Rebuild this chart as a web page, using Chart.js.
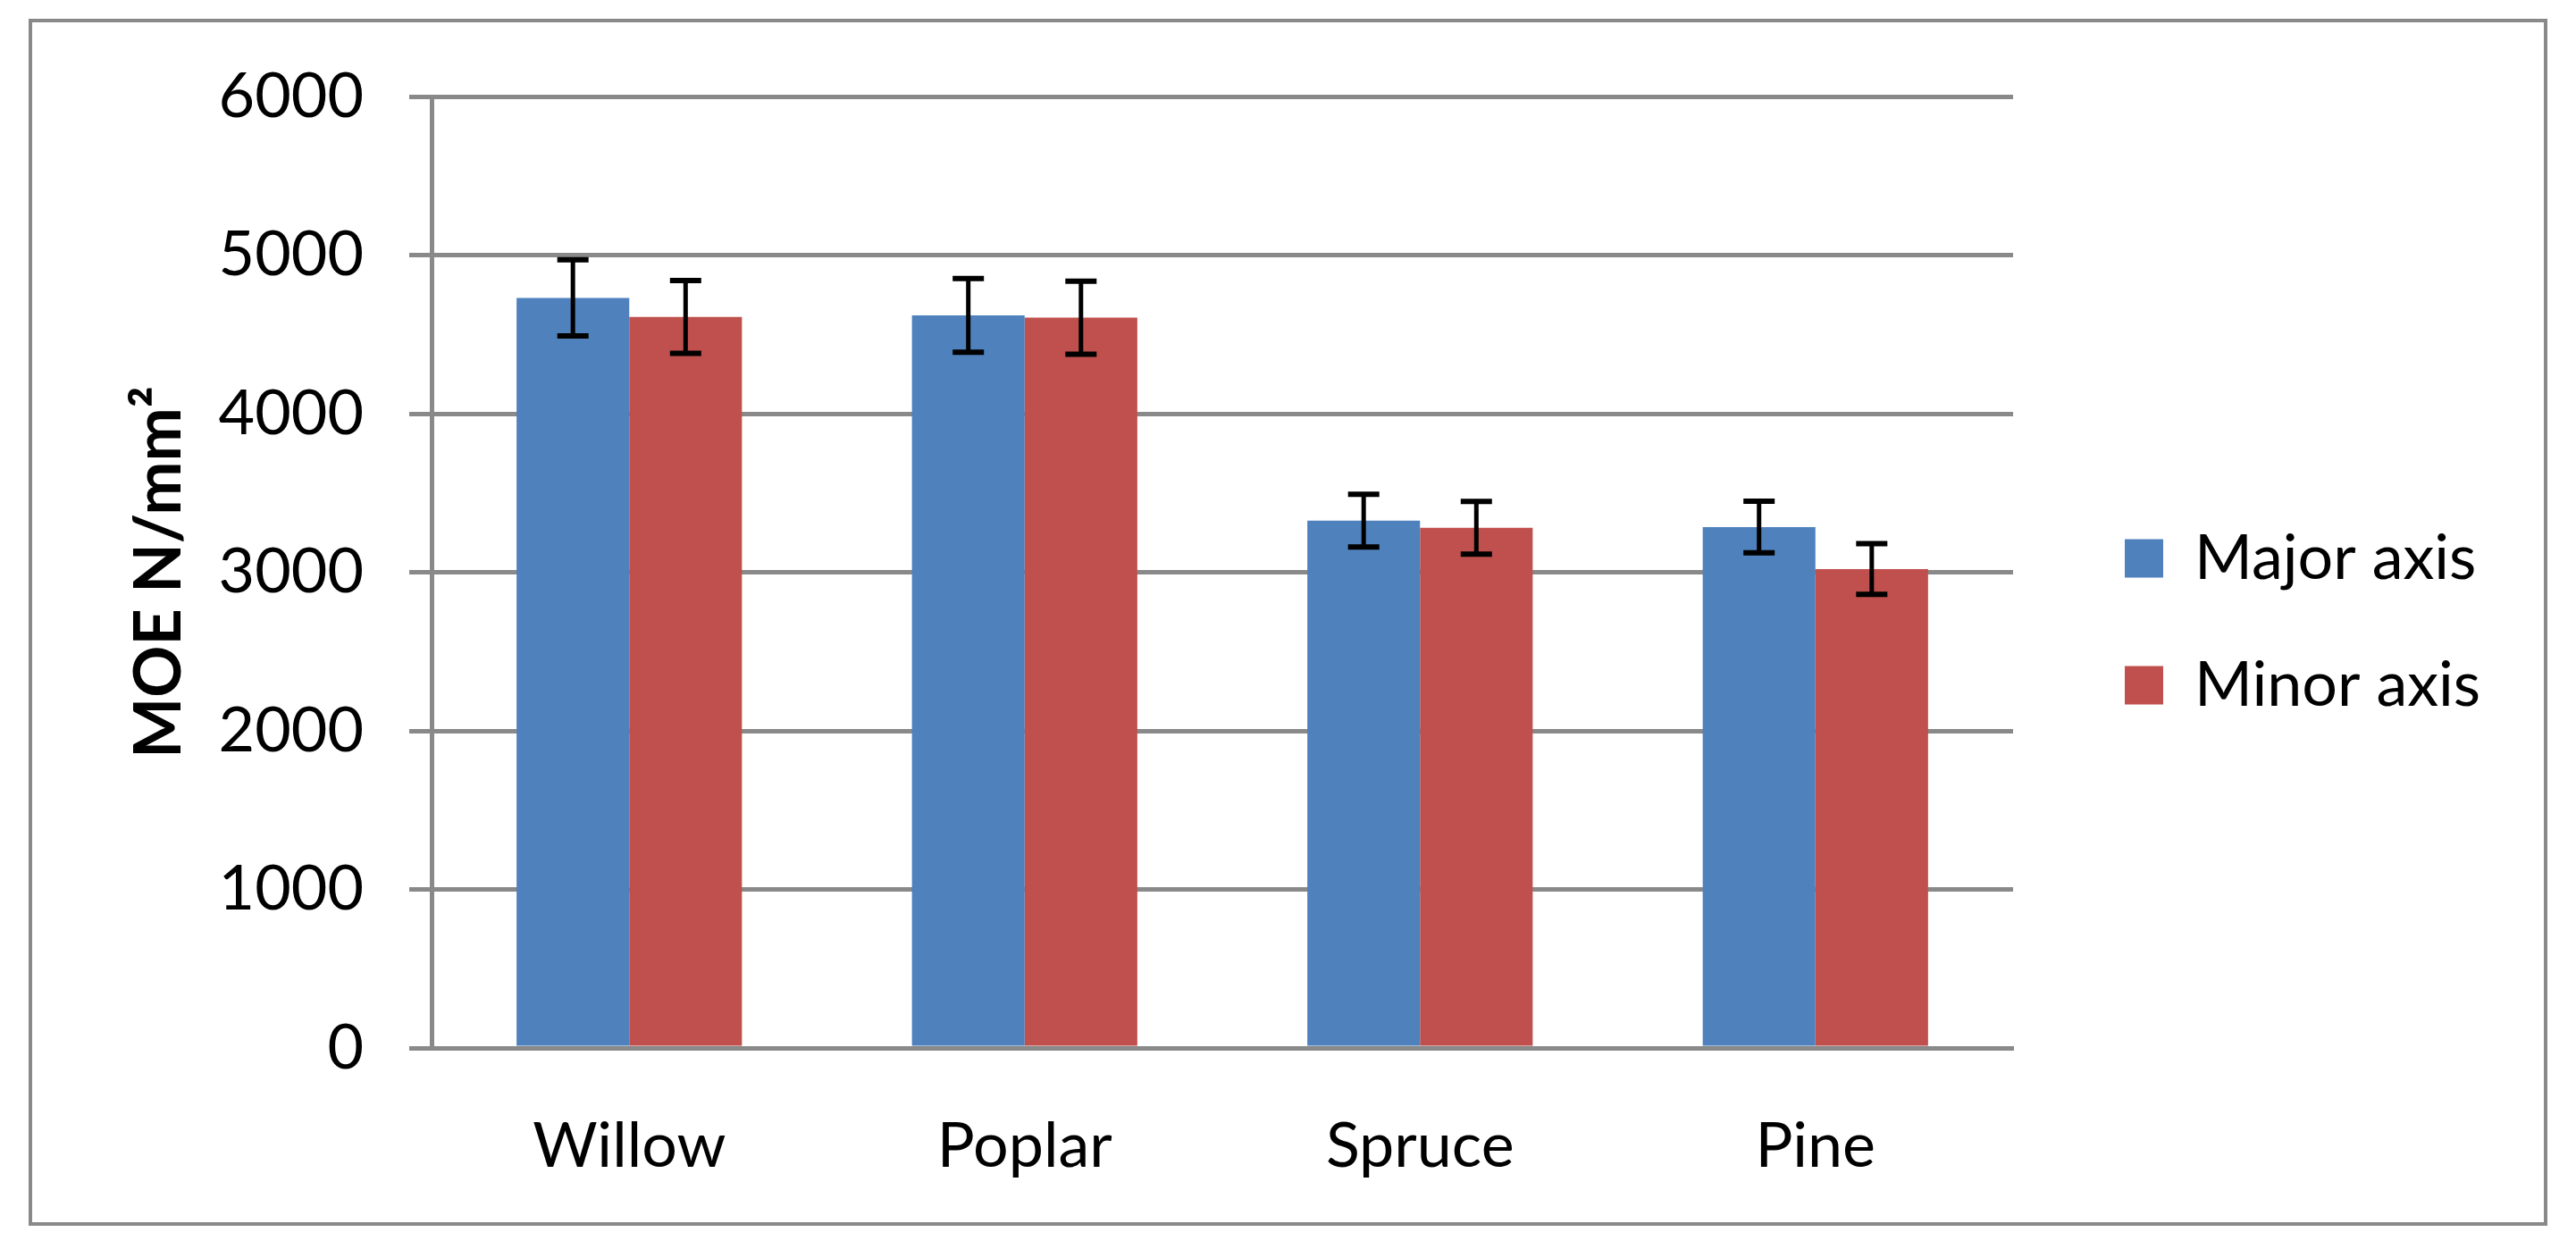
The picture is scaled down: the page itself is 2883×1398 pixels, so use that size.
<!DOCTYPE html>
<html>
<head>
<meta charset="utf-8">
<title>MOE by wood species</title>
<script src="https://cdn.jsdelivr.net/npm/chart.js@4.4.1/dist/chart.umd.min.js"></script>
<style>
  html, body { margin: 0; padding: 0; background: #fff; }
  canvas { display: block; }
</style>
</head>
<body>
<canvas id="moeChart" width="2883" height="1398" style="width:2883px;height:1398px"></canvas>
<script>
// data
const species = ['Willow', 'Poplar', 'Spruce', 'Pine'];
const seriesNames = ['Major axis', 'Minor axis'];
const majorAxis = [4730, 4620, 3325, 3285];
const minorAxis = [4610, 4605, 3280, 3020];
const majorAxisErr = [240, 232, 166, 163];
const minorAxisErr = [230, 230, 166, 160];
const yTicks = [0, 1000, 2000, 3000, 4000, 5000, 6000];

const GRID = '#898989';
const FONT = 'Lato';
const LABEL_SIZE = 70;
const LEGEND_PAD = 72;
const LEGEND_BOX = 43;

// work out how wide the legend will be so the plot ends where Excel's did
const mctx = document.createElement('canvas').getContext('2d');
mctx.font = LABEL_SIZE + 'px ' + FONT;
const textW = Math.max(...seriesNames.map(s => mctx.measureText(s).width));
const legendW = LEGEND_PAD + LEGEND_BOX + LABEL_SIZE / 2 + textW + 10;
const plotRight = 2253;
const padRight = Math.max(0, 2883 - plotRight - legendW);

// whiskers drawn from the value scale, one per bar
const errorBars = {
    id: 'errorBars',
    afterDatasetsDraw(chart) {
        const { ctx, scales: { y } } = chart;
        chart.data.datasets.forEach((ds, di) => {
            const meta = chart.getDatasetMeta(di);
            meta.data.forEach((bar, i) => {
                const v = ds.data[i];
                const e = ds.errors[i];
                const top = y.getPixelForValue(v + e);
                const bot = y.getPixelForValue(v - e);
                ctx.save();
                ctx.strokeStyle = '#000';
                ctx.lineWidth = 5;
                ctx.beginPath();
                ctx.moveTo(bar.x, top);
                ctx.lineTo(bar.x, bot);
                ctx.stroke();
                ctx.lineWidth = 6;
                ctx.beginPath();
                ctx.moveTo(bar.x - 17.5, top);
                ctx.lineTo(bar.x + 17.5, top);
                ctx.moveTo(bar.x - 17.5, bot);
                ctx.lineTo(bar.x + 17.5, bot);
                ctx.stroke();
                ctx.restore();
            });
        });
    }
};

// outer frame + nudge the legend to where Excel put it
const frame = {
    id: 'frame',
    afterLayout(chart) {
        const lg = chart.legend;
        if (!lg) return;
        const dx = (chart.chartArea.right + 125) - (lg.left + lg.options.labels.padding);
        const dy = -57;
        lg.left += dx; lg.right += dx;
        lg.top += dy; lg.bottom += dy;
    },
    beforeDraw(chart) {
        const { ctx, width, height } = chart;
        ctx.save();
        ctx.fillStyle = '#fff';
        ctx.fillRect(0, 0, width, height);
        ctx.strokeStyle = GRID;
        ctx.lineWidth = 4;
        ctx.strokeRect(34, 23, width - 68, height - 51);
        ctx.restore();
    }
};

new Chart(document.getElementById('moeChart'), {
    type: 'bar',
    data: {
        labels: species,
        datasets: [
            {
                label: seriesNames[0],
                data: majorAxis,
                errors: majorAxisErr,
                backgroundColor: '#4F81BD',
                categoryPercentage: 0.57,
                barPercentage: 1.0
            },
            {
                label: seriesNames[1],
                data: minorAxis,
                errors: minorAxisErr,
                backgroundColor: '#C0504D',
                categoryPercentage: 0.57,
                barPercentage: 1.0
            }
        ]
    },
    options: {
        responsive: false,
        animation: false,
        devicePixelRatio: 1,
        layout: { padding: { left: 136, top: 108, right: padRight, bottom: 0 } },
        plugins: {
            tooltip: { enabled: false },
            legend: {
                position: 'right',
                labels: {
                    boxWidth: LEGEND_BOX,
                    boxHeight: LEGEND_BOX,
                    padding: LEGEND_PAD,
                    color: '#000',
                    font: { family: FONT, size: LABEL_SIZE }
                }
            }
        },
        scales: {
            x: {
                grid: { display: false },
                border: { display: true, color: GRID, width: 5 },
                ticks: {
                    color: '#000',
                    padding: 60,
                    font: { family: FONT, size: LABEL_SIZE }
                },
                afterFit(scale) { scale.height = 225; }
            },
            y: {
                min: 0,
                max: 6000,
                afterBuildTicks(scale) { scale.ticks = yTicks.map(v => ({ value: v })); },
                grid: { color: GRID, lineWidth: 5, tickLength: 25, drawTicks: true },
                border: { display: true, color: GRID, width: 5 },
                ticks: {
                    color: '#000',
                    padding: 51,
                    font: { family: FONT, size: LABEL_SIZE },
                    callback: (v) => String(v)
                },
                title: {
                    display: true,
                    text: 'MOE N/mm²',
                    color: '#000',
                    padding: 0,
                    font: { family: FONT, size: 72, weight: 'bold' }
                },
                afterFit(scale) { scale.width = 347; }
            }
        }
    },
    plugins: [errorBars, frame]
});
</script>
</body>
</html>
